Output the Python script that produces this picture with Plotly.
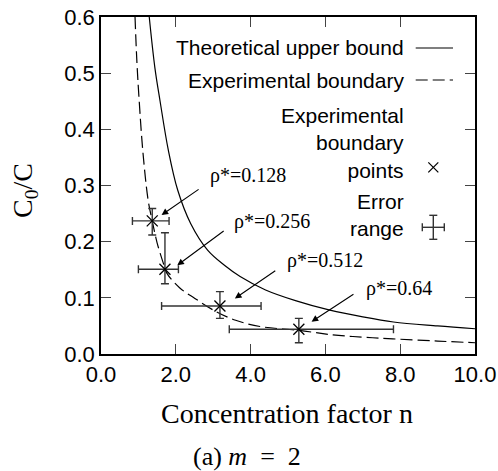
import plotly.graph_objects as go

# Theoretical upper bound (solid curve)
theory_n = [1.29, 1.44, 1.58, 1.80, 2.05, 2.40, 2.85, 3.30, 3.72, 4.40, 5.20, 6.12, 7.00, 7.82, 9.00, 10.0]
theory_c = [0.600, 0.510, 0.450, 0.363, 0.292, 0.232, 0.185, 0.158, 0.138, 0.114, 0.095, 0.078, 0.066, 0.057, 0.050, 0.045]

# Experimental boundary (dashed curve)
exp_n = [0.91, 0.96, 1.02, 1.12, 1.26, 1.37, 1.50, 1.67, 1.76, 2.10, 2.51, 3.09, 3.60, 4.25, 5.30, 6.20, 7.00, 7.80, 9.00, 10.0]
exp_c = [0.600, 0.520, 0.452, 0.360, 0.274, 0.237, 0.198, 0.161, 0.144, 0.118, 0.099, 0.075, 0.060, 0.049, 0.042, 0.034, 0.030, 0.027, 0.023, 0.020]

# Experimental boundary points with error ranges
pt_n = [1.37, 1.71, 3.18, 5.29]
pt_c = [0.237, 0.151, 0.0855, 0.044]
pt_n_lo = [0.84, 1.00, 1.62, 3.43]
pt_n_hi = [1.82, 2.07, 4.28, 7.82]
pt_c_lo = [0.212, 0.125, 0.0635, 0.020]
pt_c_hi = [0.259, 0.216, 0.111, 0.0635]

rho_labels = ["ρ*=0.128", "ρ*=0.256", "ρ*=0.512", "ρ*=0.64"]
label_n = [2.86, 3.49, 4.92, 7.03]
label_c = [0.317, 0.2355, 0.167, 0.117]
head_n = [1.62, 2.04, 3.58, 5.63]
head_c = [0.2475, 0.158, 0.099, 0.0575]
tail_n = [2.65, 3.32, 4.70, 6.79]
tail_c = [0.295, 0.221, 0.150, 0.108]

x_ticks = [0, 2, 4, 6, 8, 10]
y_ticks = [0.0, 0.1, 0.2, 0.3, 0.4, 0.5, 0.6]

SANS = "Liberation Sans, Arial, sans-serif"
SERIF = "Liberation Serif, Times New Roman, serif"

fig = go.Figure()
fig.add_trace(go.Scatter(x=theory_n, y=theory_c, mode="lines", line=dict(color="black", width=1.2, shape="spline"), showlegend=False))
fig.add_trace(go.Scatter(x=exp_n, y=exp_c, mode="lines", line=dict(color="black", width=1.2, shape="spline", dash="12px,5px"), showlegend=False))
fig.add_trace(go.Scatter(
    x=pt_n, y=pt_c, mode="markers",
    marker=dict(symbol="x-thin", size=11, line=dict(color="black", width=1.3)),
    error_x=dict(type="data", symmetric=False,
                 array=[h - v for h, v in zip(pt_n_hi, pt_n)],
                 arrayminus=[v - l for l, v in zip(pt_n_lo, pt_n)],
                 color="#333333", thickness=1.4, width=4),
    error_y=dict(type="data", symmetric=False,
                 array=[h - v for h, v in zip(pt_c_hi, pt_c)],
                 arrayminus=[v - l for l, v in zip(pt_c_lo, pt_c)],
                 color="#333333", thickness=1.4, width=4),
    showlegend=False))

annotations = []
for t, lx, ly in zip(rho_labels, label_n, label_c):
    annotations.append(dict(x=lx, y=ly, xref="x", yref="y", text=t, showarrow=False,
                            xanchor="left", yanchor="middle", font=dict(family=SERIF, size=20, color="black")))
for hx, hy, tx, ty in zip(head_n, head_c, tail_n, tail_c):
    annotations.append(dict(x=hx, y=hy, xref="x", yref="y", ax=tx, ay=ty, axref="x", ayref="y",
                            text="", showarrow=True, arrowhead=2, arrowsize=1.2, arrowwidth=1.1, arrowcolor="black"))

# legend (manual, text right-aligned with symbols on the right)
W, H = 374.0, 337.0
def px(xp):
    return (xp - 101) / W
def py(yp):
    return (354 - yp) / H

legend_items = [("Theoretical upper bound", 48), ("Experimental boundary", 80),
                ("Experimental<br>boundary<br>points", 143), ("Error<br>range", 215)]
for txt, yc in legend_items:
    annotations.append(dict(x=px(405.7), y=py(yc), xref="paper", yref="paper", text=txt, showarrow=False,
                            xanchor="right", yanchor="middle", align="right",
                            font=dict(family=SANS, size=21, color="black")))

# axis titles and caption
annotations.append(dict(x=px(286.7), y=py(413), xref="paper", yref="paper", text="Concentration factor n",
                        showarrow=False, xanchor="center", yanchor="middle", font=dict(family=SERIF, size=28, color="black")))
annotations.append(dict(x=px(24), y=py(191), xref="paper", yref="paper", text="C<sub>0</sub>/C", textangle=-90,
                        showarrow=False, xanchor="center", yanchor="middle", font=dict(family=SERIF, size=28, color="black")))
annotations.append(dict(x=px(247), y=py(456), xref="paper", yref="paper", text="(a) <i>m</i>\u2002=\u20022",
                        showarrow=False, xanchor="center", yanchor="middle", font=dict(family=SERIF, size=26, color="black")))

shapes = []
# legend line samples
shapes.append(dict(type="line", xref="paper", yref="paper", x0=px(415.7), x1=px(453), y0=py(48), y1=py(48),
                   line=dict(color="black", width=1.2)))
shapes.append(dict(type="line", xref="paper", yref="paper", x0=px(415.7), x1=px(453), y0=py(80), y1=py(80),
                   line=dict(color="black", width=1.2, dash="12px,5px")))
# legend x marker
cx, cy = 433.3, 167.3
for d in (1, -1):
    shapes.append(dict(type="line", xref="paper", yref="paper", x0=px(cx - 5), x1=px(cx + 5), y0=py(cy - 5 * d), y1=py(cy + 5 * d),
                       line=dict(color="black", width=1.2)))
# legend error range icon
ex, ey = 433.3, 227.3
shapes.append(dict(type="line", xref="paper", yref="paper", x0=px(ex - 11), x1=px(ex + 11), y0=py(ey), y1=py(ey), line=dict(color="#333333", width=1.4)))
shapes.append(dict(type="line", xref="paper", yref="paper", x0=px(ex), x1=px(ex), y0=py(ey - 12), y1=py(ey + 12), line=dict(color="#333333", width=1.4)))
for s in (-11, 11):
    shapes.append(dict(type="line", xref="paper", yref="paper", x0=px(ex + s), x1=px(ex + s), y0=py(ey - 4), y1=py(ey + 4), line=dict(color="#333333", width=1.4)))
for s in (-12, 12):
    shapes.append(dict(type="line", xref="paper", yref="paper", x0=px(ex - 4), x1=px(ex + 4), y0=py(ey + s), y1=py(ey + s), line=dict(color="#333333", width=1.4)))

fig.update_layout(
    width=498, height=471,
    margin=dict(l=101, r=23, t=17, b=117, autoexpand=False),
    paper_bgcolor="white", plot_bgcolor="white",
    showlegend=False,
    annotations=annotations, shapes=shapes,
    xaxis=dict(range=[0, 10], tickvals=x_ticks, tickformat=".1f", ticks="inside", ticklen=10, tickwidth=1.2,
               showline=True, linecolor="black", linewidth=1.5, mirror="ticks", showgrid=False, zeroline=False,
               tickfont=dict(family=SANS, size=22, color="black"), fixedrange=True),
    yaxis=dict(range=[0, 0.6], tickvals=y_ticks, tickformat=".1f", ticks="inside", ticklen=10, tickwidth=1.2,
               showline=True, linecolor="black", linewidth=1.5, mirror="ticks", showgrid=False, zeroline=False,
               tickfont=dict(family=SANS, size=22, color="black"), fixedrange=True),
)
fig.write_html("out.html")
